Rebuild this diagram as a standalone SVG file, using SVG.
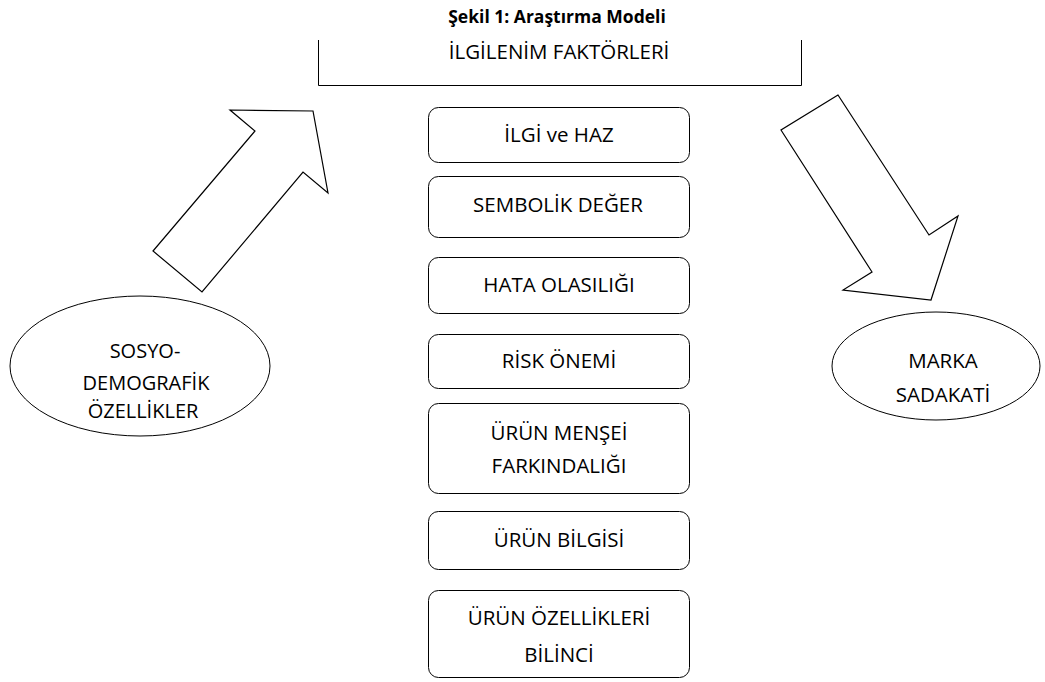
<svg xmlns="http://www.w3.org/2000/svg" width="1045" height="682" viewBox="0 0 1045 682">
<style>
.t{font-family:"Open Sans","Liberation Sans",sans-serif;font-size:20.5px;fill:#000;text-anchor:middle}
.e{font-size:20px}
.b{font-weight:bold;font-size:17.5px}
.box{fill:#fff;stroke:#000;stroke-width:1}
.arr{fill:#fff;stroke:#000;stroke-width:1.2;stroke-linejoin:miter}
</style>
<rect width="1045" height="682" fill="#fff"/>
<text class="t b" x="557" y="23">Şekil 1: Araştırma Modeli</text>
<g id="ilgilenim">
<path d="M318.5 40 V85.5 H801.5 V40" fill="none" stroke="#000" stroke-width="1"/>
<text class="t" x="559" y="59">İLGİLENİM FAKTÖRLERİ</text>
</g>
<g id="sosyo">
<ellipse class="box" cx="140" cy="366" rx="130" ry="70"/>
<text class="t e" x="145" y="358">SOSYO-</text>
<text class="t e" x="146" y="390">DEMOGRAFİK</text>
<text class="t e" x="143" y="418">ÖZELLİKLER</text>
</g>
<g id="marka">
<ellipse class="box" cx="936" cy="366" rx="104" ry="54"/>
<text class="t" x="943" y="368">MARKA</text>
<text class="t" x="943" y="402">SADAKATİ</text>
</g>
<g id="n1"><rect class="box" x="428.5" y="107.5" width="261" height="55" rx="10"/><text class="t" x="559" y="142">İLGİ ve HAZ</text></g>
<g id="n2"><rect class="box" x="428.5" y="176.5" width="261" height="61" rx="10"/><text class="t" x="558" y="212">SEMBOLİK DEĞER</text></g>
<g id="n3"><rect class="box" x="428.5" y="257.5" width="261" height="56" rx="10"/><text class="t" x="559" y="292">HATA OLASILIĞI</text></g>
<g id="n4"><rect class="box" x="428.5" y="334.5" width="261" height="54" rx="10"/><text class="t" x="559" y="368">RİSK ÖNEMİ</text></g>
<g id="n5"><rect class="box" x="428.5" y="403.5" width="261" height="90" rx="10"/><text class="t" x="559" y="440">ÜRÜN MENŞEİ</text><text class="t" x="559" y="473">FARKINDALIĞI</text></g>
<g id="n6"><rect class="box" x="428.5" y="511.5" width="261" height="58" rx="10"/><text class="t" x="559" y="547">ÜRÜN BİLGİSİ</text></g>
<g id="n7"><rect class="box" x="428.5" y="590.5" width="261" height="87" rx="10"/><text class="t" x="559" y="625">ÜRÜN ÖZELLİKLERİ</text><text class="t" x="559" y="662">BİLİNCİ</text></g>
<g id="connectors">
<polygon class="arr" points="230,110 313,111 328,193 303,172 202,292 153,251 255,131"/>
<polygon class="arr" points="838,95 781,130 872,272 843,290 931,300 958,216 929,235"/>
</g>
</svg>
